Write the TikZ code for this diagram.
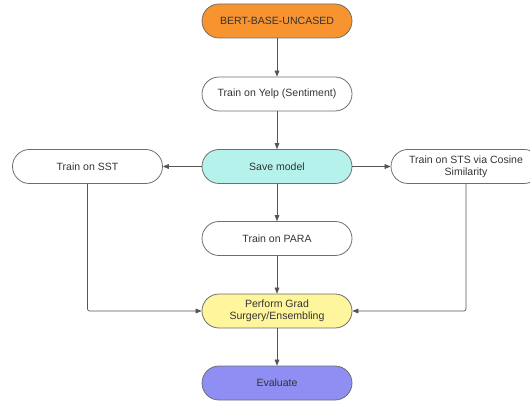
\documentclass[tikz,border=0pt]{standalone}
\usepackage{fontspec}
\setmainfont{Liberation Sans}
\usetikzlibrary{arrows.meta}
\definecolor{bord}{HTML}{6E6E6E}
\definecolor{txt}{HTML}{333333}
\definecolor{orng}{HTML}{F7942F}
\definecolor{cyn}{HTML}{B5F2EC}
\definecolor{ylw}{HTML}{FFF59C}
\definecolor{prp}{HTML}{8E8EF3}
\definecolor{lne}{HTML}{555555}
\tikzset{
  pill/.style={draw=bord, line width=0.6pt, rounded corners=12.75pt, minimum width=112.5pt, minimum height=25.5pt, inner sep=0pt, align=center, text=txt, font=\fontsize{7.9}{9.3}\selectfont},
  conn/.style={draw=lne, line width=0.5pt, -{Triangle[length=4.5pt,width=3.6pt]}, rounded corners=1.5pt}
}
\begin{document}
\begin{tikzpicture}[x=0.75pt,y=-0.75pt]
\useasboundingbox (0,0) rectangle (530,402);
\begin{scope}
\clip (0,0) rectangle (530,402);
\node[pill, fill=orng] (bert) at (277,21) {BERT-BASE-UNCASED};
\node[pill] (yelp) at (277,94) {Train on Yelp (Sentiment)};
\node[pill, fill=cyn] (save) at (277,166.5) {Save model};
\node[pill] (sst) at (87.5,166.5) {Train on SST};
\node[pill] (sts) at (466,166.5) {Train on STS via Cosine\\Similarity};
\node[pill] (para) at (277,238.5) {Train on PARA};
\node[pill, fill=ylw] (grad) at (277,311) {Perform Grad\\Surgery/Ensembling};
\node[pill, fill=prp] (eval) at (277,383) {Evaluate};
\end{scope}
\draw[conn] (bert) -- (yelp);
\draw[conn] (yelp) -- (save);
\draw[conn] (save) -- (sst);
\draw[conn] (save) -- (sts);
\draw[conn] (save) -- (para);
\draw[conn] (para) -- (grad);
\draw[conn] (grad) -- (eval);
\draw[conn] (sst.south) |- (grad.west);
\draw[conn] (sts.south) |- (grad.east);
\end{tikzpicture}
\end{document}
